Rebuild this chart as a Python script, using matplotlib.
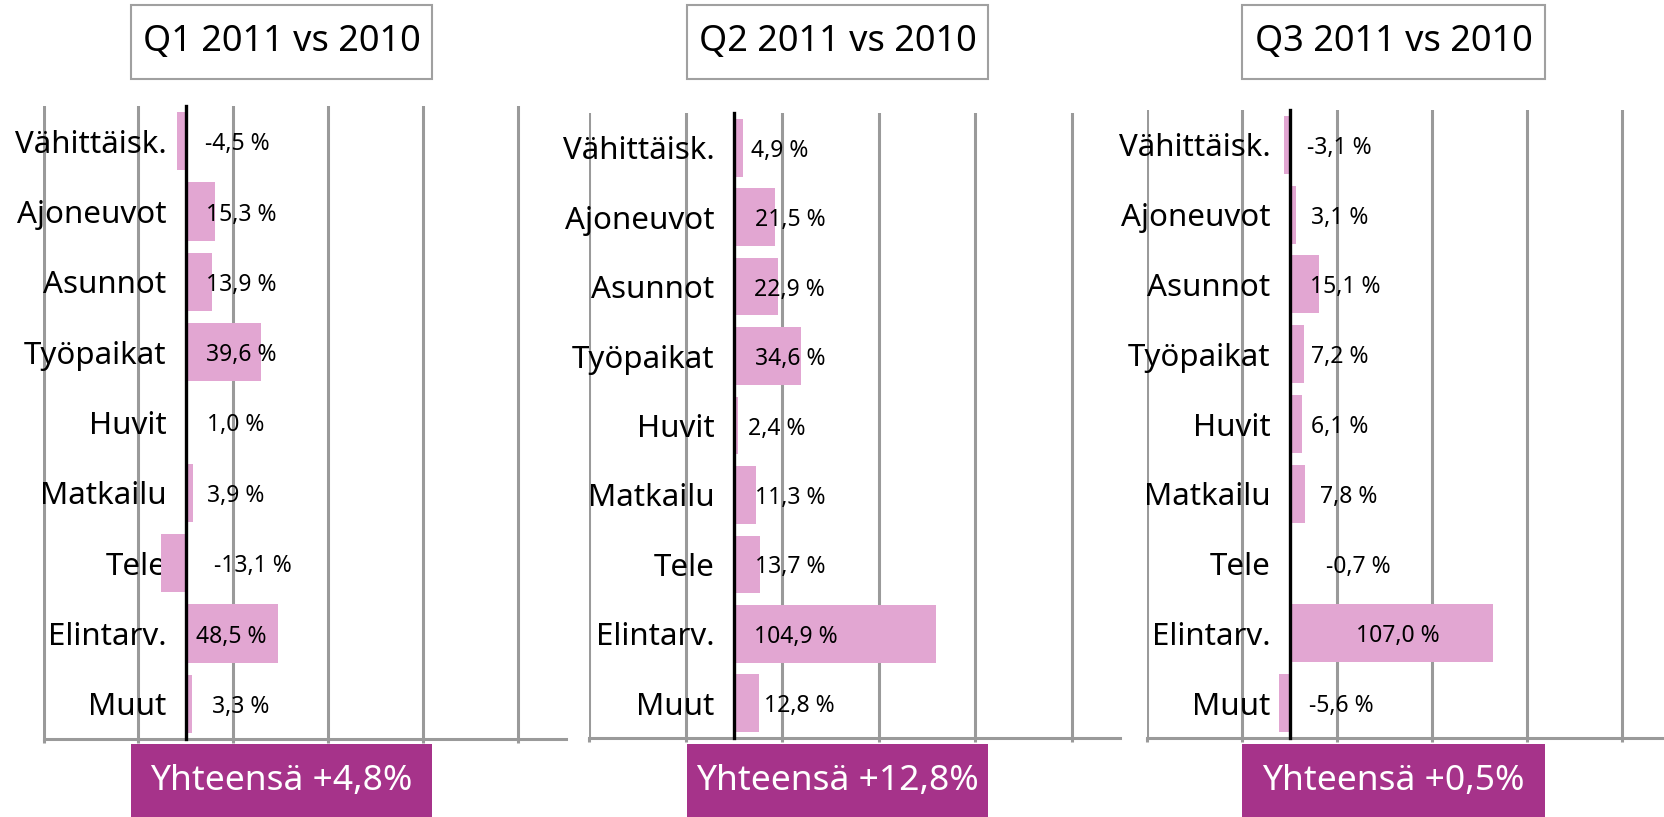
import matplotlib
matplotlib.use("Agg")
from matplotlib import pyplot as plt
from matplotlib import transforms
from matplotlib.patches import Rectangle

plt.rcParams["font.family"] = ["Noto Sans", "DejaVu Sans"]

categories = ["Vähittäisk.", "Ajoneuvot", "Asunnot", "Työpaikat", "Huvit",
              "Matkailu", "Tele", "Elintarv.", "Muut"]
titles = ["Q1 2011 vs 2010", "Q2 2011 vs 2010", "Q3 2011 vs 2010"]
totals = ["Yhteensä +4,8%", "Yhteensä +12,8%", "Yhteensä +0,5%"]

q1 = [-4.5, 15.3, 13.9, 39.6, 1.0, 3.9, -13.1, 48.5, 3.3]
q2 = [4.9, 21.5, 22.9, 34.6, 2.4, 11.3, 13.7, 104.9, 12.8]
q3 = [-3.1, 3.1, 15.1, 7.2, 6.1, 7.8, -0.7, 107.0, -5.6]
values = [q1, q2, q3]

# value labels were placed by hand in the original, x in % units
label_x = [[27, 29, 29, 29, 26, 26, 35, 24, 29],
           [24, 29, 29, 29, 22, 29, 29, 32, 34],
           [26, 26, 29, 26, 26, 31, 36, 57, 27]]

W, H = 1665, 817
# pixel layout: axes left, right, top, bottom, then box left, right
layout = [(43.5, 566, 106, 739, 131, 432),
          (589, 1120, 113, 738, 687, 988),
          (1147.5, 1670, 110, 738, 1242, 1545)]

pink = "#e2a6d2"
purple = "#a6338a"
gray = "#9a9a9a"

fig = plt.figure(figsize=(W / 100, H / 100), dpi=100, facecolor="white")

for k in range(3):
    l, r, t, b, bx0, bx1 = layout[k]
    ax = fig.add_axes([l / W, 1 - b / H, (r - l) / W, (b - t) / H])
    ax.barh(range(len(categories)), values[k], height=0.83, color=pink, zorder=2)
    ax.set_xlim(-75, 200)
    ax.set_ylim(len(categories) - 0.5, -0.5)

    ax.set_xticks([-75, -25, 25, 75, 125, 175])
    ax.set_xticklabels([])
    ax.tick_params(axis="x", length=3, width=2.2, color=gray)
    ax.grid(axis="x", color=gray, linewidth=2.2)
    ax.set_axisbelow(True)

    ax.set_yticks(range(len(categories)))
    ax.set_yticklabels(categories)
    ax.tick_params(axis="y", length=0, pad=14, labelsize=22.5)

    ax.spines["left"].set_position(("data", 0))
    ax.spines["left"].set_color("black")
    ax.spines["left"].set_linewidth(2.4)
    ax.spines["left"].set_zorder(3)
    ax.spines["bottom"].set_color(gray)
    ax.spines["bottom"].set_linewidth(2.2)
    ax.spines["top"].set_visible(False)
    ax.spines["right"].set_visible(False)
    ax.patch.set_alpha(0)

    # value labels
    trans = transforms.offset_copy(ax.transData, fig=fig, x=0, y=-3, units="dots")
    for i, v in enumerate(values[k]):
        txt = f"{v:.1f}".replace(".", ",") + " %"
        ax.text(label_x[k][i], i, txt, ha="center", va="center", fontsize=16.5,
                transform=trans, zorder=4)

    # title box
    fig.add_artist(Rectangle((bx0 / W, 1 - 79 / H), (bx1 - bx0) / W, 74 / H,
                             transform=fig.transFigure, facecolor="white",
                             edgecolor="#a0a0a0", linewidth=1.5))
    fig.text((bx0 + bx1) / 2 / W, 1 - 42 / H, titles[k], ha="center", va="center",
             fontsize=26)

    # total box
    fig.add_artist(Rectangle((bx0 / W, 0), (bx1 - bx0) / W, 73 / H,
                             transform=fig.transFigure, facecolor=purple,
                             edgecolor="none"))
    fig.text((bx0 + bx1) / 2 / W, 36 / H, totals[k], ha="center", va="center",
             fontsize=25.5, color="white")

fig.savefig("out.png", dpi=100, facecolor="white")
